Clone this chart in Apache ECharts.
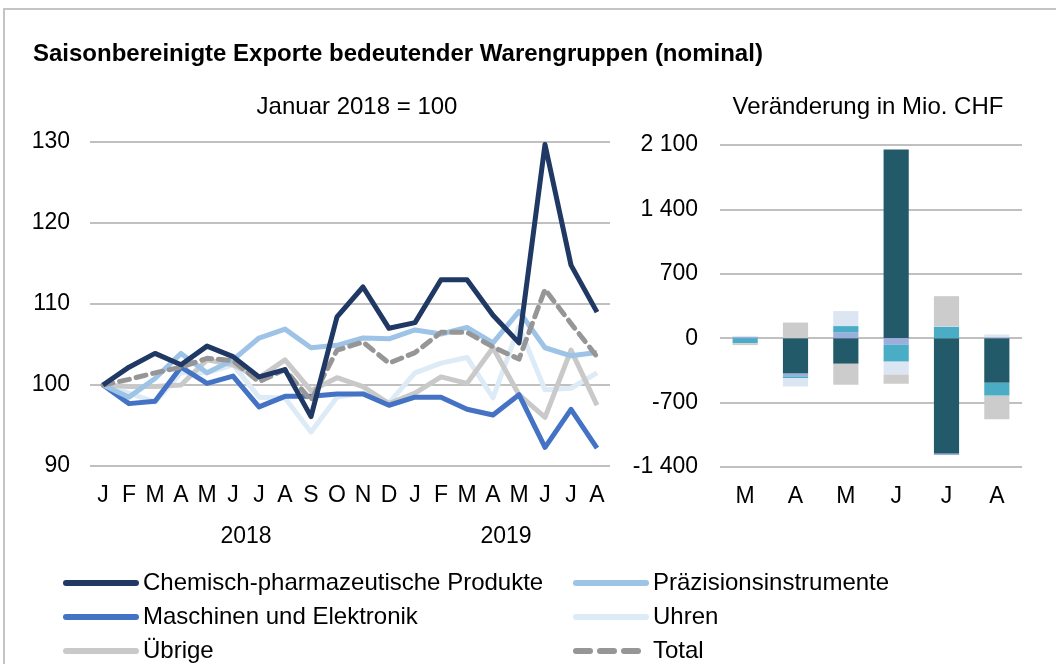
<!DOCTYPE html>
<html>
<head>
<meta charset="utf-8">
<script src="https://cdn.jsdelivr.net/npm/echarts@6.0.0/dist/echarts.min.js"></script>
<style>
  html, body { margin: 0; padding: 0; background: #fff; }
  #wrap { position: relative; width: 1056px; height: 664px; overflow: hidden; }
  #frame { position: absolute; left: 3px; top: 8px; width: 1100px; height: 700px;
           border-top: 2px solid #c4c4c4; border-left: 2px solid #c4c4c4; }
  #chart { position: absolute; left: 0; top: 0; width: 1056px; height: 664px; }
</style>
</head>
<body>
<div id="wrap">
  <div id="frame"></div>
  <div id="chart"></div>
</div>
<script>
// Monatswerte, Index Januar 2018 = 100
var months = ['J','F','M','A','M','J','J','A','S','O','N','D','J','F','M','A','M','J','J','A'];
var chem    = [100,102.2,103.9,102.5,104.8,103.5,101.0,101.9,96.1,108.4,112.1,107.0,107.7,113.0,113.0,108.6,105.2,129.7,114.8,109.0];
var praez   = [100,98.5,100.8,103.9,101.5,103.1,105.8,106.9,104.6,104.9,105.8,105.7,106.8,106.3,107.1,105.2,109.1,104.6,103.6,104.0];
var masch   = [100,97.7,98.0,102.2,100.2,101.1,97.3,98.6,98.6,98.9,98.9,97.5,98.5,98.5,97.0,96.3,98.8,92.3,97.0,92.2];
var uhren   = [100,99.0,97.9,101.5,101.5,102.5,98.5,98.4,94.2,98.5,99.0,97.8,101.5,102.7,103.4,98.4,107.2,99.4,99.6,101.5];
var uebrige = [100,99.8,99.8,100.0,103.1,102.5,100.9,103.1,99.3,100.9,99.8,97.7,99.0,101.0,100.2,104.6,98.8,96.0,104.3,97.5];
var total   = [100,100.7,101.5,102.2,103.3,103.0,100.4,101.9,98.1,104.3,105.3,102.7,104.0,106.5,106.5,104.7,103.2,111.8,107.6,103.5];
var years = ['2018', '2019'];

// Veränderung gegenüber Vormonat in Mio. CHF (März bis August 2019)
var barMonths = ['M','A','M','J','J','A'];
var chemD    = [0,-385,-278,2050,-1255,-485];
var praezD   = [15,-30,62,-70,-15,10];
var maschD   = [-55,-20,70,-185,127,-140];
var uhrenD   = [10,-90,163,-140,5,30];
var uebrigeD = [-20,170,-228,-100,325,-256];

var names = ['Chemisch-pharmazeutische Produkte','Präzisionsinstrumente','Maschinen und Elektronik','Uhren','Übrige','Total'];
var font = 'Liberation Sans, Arial, sans-serif';

var chart = echarts.init(document.getElementById('chart'));

function fmt(v) {
    var s = String(Math.abs(v));
    s = s.replace(/\B(?=(\d{3})+(?!\d))/g, ' ');
    return (v < 0 ? '-' : '') + s;
}

function line(name, data, color, z, dashed) {
    return {
        name: name, type: 'line', xAxisIndex: 0, yAxisIndex: 0,
        data: data, symbol: 'none', z: z,
        lineStyle: { color: color, width: 5, type: dashed ? [10, 7] : 'solid', cap: dashed ? 'round' : 'butt', join: 'round' },
        itemStyle: { color: color }
    };
}

function bar(name, data, color) {
    return {
        name: name, type: 'bar', xAxisIndex: 1, yAxisIndex: 1, stack: 'd',
        data: data, barWidth: '50%',
        itemStyle: { color: color }
    };
}

function legend(left, items) {
    return {
        orient: 'vertical', left: left, top: 571, height: 100, padding: 0,
        itemWidth: 70, itemHeight: 14, itemGap: 10,
        data: items,
        itemStyle: { opacity: 0 },
        lineStyle: { width: 6, cap: 'round' },
        textStyle: { fontFamily: font, fontSize: 24, color: '#000', lineHeight: 24, padding: [0, 0, 0, 2] }
    };
}

var option = {
    animation: false,
    textStyle: { fontFamily: font },
    title: {
        text: 'Saisonbereinigte Exporte bedeutender Warengruppen (nominal)',
        left: 28, top: 37,
        textStyle: { fontFamily: font, fontSize: 24, fontWeight: 'bold', color: '#000' }
    },
    graphic: [
        { type: 'text', x: 357, y: 107, style: { text: 'Januar 2018 = 100', font: '24px ' + font, fill: '#000', align: 'center', verticalAlign: 'middle' } },
        { type: 'text', x: 868, y: 107, style: { text: 'Veränderung in Mio. CHF', font: '24px ' + font, fill: '#000', align: 'center', verticalAlign: 'middle' } },
        { type: 'text', x: 246, y: 537, style: { text: years[0], font: '23px ' + font, fill: '#000', align: 'center', verticalAlign: 'middle' } },
        { type: 'text', x: 506, y: 537, style: { text: years[1], font: '23px ' + font, fill: '#000', align: 'center', verticalAlign: 'middle' } }
    ],
    legend: [
        legend(63, [names[0], names[2], names[4]]),
        legend(573, [names[1], names[3], { name: names[5], lineStyle: { type: [14, 10], width: 6, cap: 'round' } }])
    ],
    grid: [
        { left: 90, top: 142, width: 520, height: 324 },
        { left: 720, top: 145, width: 302, height: 322 }
    ],
    xAxis: [
        {
            type: 'category', gridIndex: 0, data: months, boundaryGap: true,
            axisLine: { show: false }, axisTick: { show: false },
            axisLabel: { color: '#000', fontSize: 23, margin: 18, interval: 0 }
        },
        {
            type: 'category', gridIndex: 1, data: barMonths,
            axisLine: { show: false, onZero: false }, axisTick: { show: false },
            axisLabel: { color: '#000', fontSize: 23, margin: 18, interval: 0 }
        }
    ],
    yAxis: [
        {
            type: 'value', gridIndex: 0, min: 90, max: 130, interval: 10,
            axisLine: { show: false }, axisTick: { show: false },
            axisLabel: { color: '#000', fontSize: 23, margin: 20 },
            splitLine: { lineStyle: { color: '#c0c0c0', width: 2 } }
        },
        {
            type: 'value', gridIndex: 1, min: -1400, max: 2100, interval: 700,
            axisLine: { show: false }, axisTick: { show: false },
            axisLabel: { color: '#000', fontSize: 23, margin: 22, formatter: fmt },
            splitLine: { lineStyle: { color: '#c0c0c0', width: 2 } }
        }
    ],
    series: [
        line(names[0], chem, '#1f3864', 16),
        line(names[1], praez, '#9dc3e6', 13),
        line(names[2], masch, '#4472c4', 12),
        line(names[3], uhren, '#ddebf7', 10),
        line(names[4], uebrige, '#c9c9c9', 11),
        line(names[5], total, '#969696', 14, true),
        bar(names[0], chemD, '#235a69'),
        bar(names[1], praezD, '#9caedb'),
        bar(names[2], maschD, '#4bacc6'),
        bar(names[3], uhrenD, '#dce6f2'),
        bar(names[4], uebrigeD, '#cccccc')
    ]
};

chart.setOption(option);
</script>
</body>
</html>
